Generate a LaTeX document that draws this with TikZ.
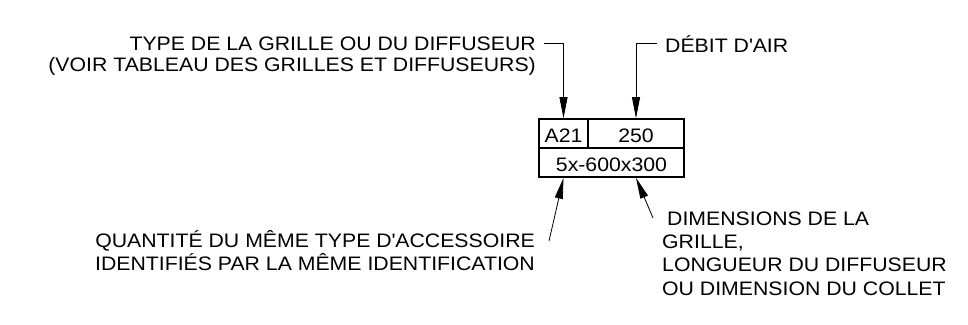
\documentclass[tikz,border=0pt]{standalone}
\usepackage{fontspec}
\setmainfont{Liberation Sans}[FakeStretch=1.09]
\usepackage{xcolor}
\usetikzlibrary{arrows.meta,positioning,calc}
\newcommand{\apos}{\textquotesingle}
\definecolor{InkBlk}{RGB}{0,0,0}
\tikzset{
  lbl/.style={font=\fontsize{19.5}{23}\selectfont,inner sep=0pt,text=InkBlk},
  cell/.style={draw=InkBlk,line width=1.6pt,inner sep=0pt,
               font=\fontsize{19.5}{23}\selectfont,text height=18pt,text depth=0pt},
  lead/.style={-{Triangle[length=21pt,width=8pt]},line width=0.8pt,InkBlk},
}
\begin{document}
\begin{tikzpicture}[x=1pt,y=-1pt]
  \useasboundingbox (0,0) rectangle (968,324);

  % the tag
  \node[cell,minimum width=49pt,minimum height=29pt] (cellA) at (563.5,133.5) {A21};
  \node[cell,minimum width=96pt,minimum height=29pt] (cellQ) at (636,133.5) {250};
  \node[cell,minimum width=145pt,minimum height=29pt] (cellD) at (611.5,162.5) {5x-600x300};

  % labels (base = last line)
  \node[lbl,align=right,anchor=base east,font=\fontsize{19.5}{21}\selectfont] (typ) at (536,71)
    {TYPE DE LA GRILLE OU DU DIFFUSEUR\\(VOIR TABLEAU DES GRILLES ET DIFFUSEURS)};
  \node[lbl,anchor=base west] (debit) at (665,52) {DÉBIT D\apos AIR};
  \node[lbl,align=right,anchor=base east,font=\fontsize{19.5}{23}\selectfont] (qte) at (535,270)
    {QUANTITÉ DU MÊME TYPE D\apos ACCESSOIRE\\IDENTIFIÉS PAR LA MÊME IDENTIFICATION};
  \node[lbl,align=left,anchor=base west,font=\fontsize{19.5}{23.3}\selectfont] (dim) at (662,295)
    {\hspace{5pt}DIMENSIONS DE LA\\GRILLE,\\LONGUEUR DU DIFFUSEUR\\OU DIMENSION DU COLLET};

  \coordinate (qteTip) at (549,241);
  \coordinate (dimTip) at (653,218);

  % leaders
  \draw[lead] ([xshift=8pt,yshift=28pt]typ.base east) -| (cellA.north);
  \draw[lead] ([xshift=-8pt,yshift=9pt]debit.base west) -| (cellQ.north);
  \draw[lead] (qteTip) -- (cellD.south -| cellA.south);
  \draw[lead] (dimTip) -- (cellD.south -| cellQ.south);
\end{tikzpicture}
\end{document}
